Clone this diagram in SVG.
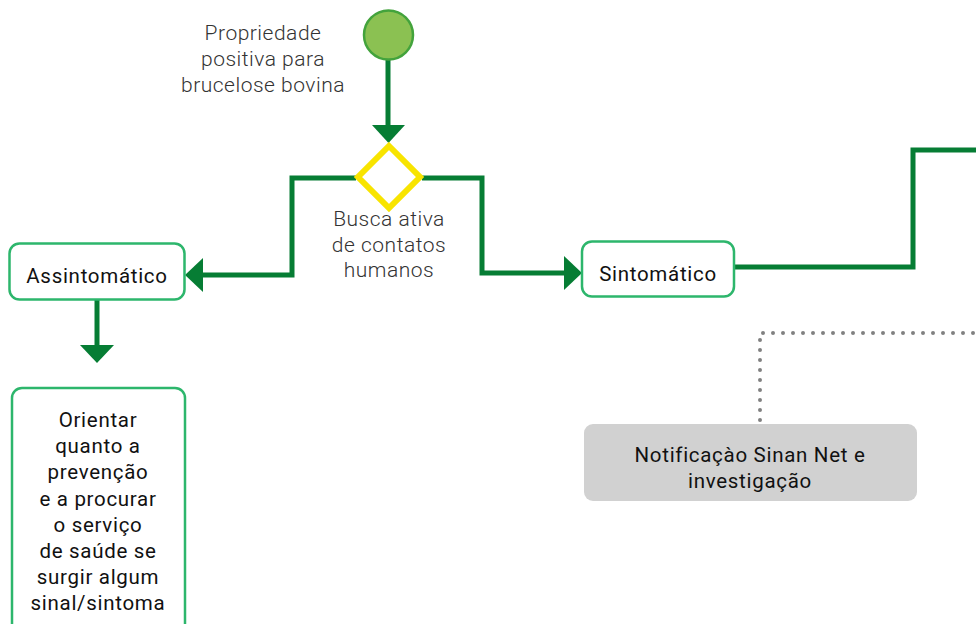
<svg xmlns="http://www.w3.org/2000/svg" width="976" height="624" viewBox="0 0 976 624">
<defs>
<style>
.t{font-family:Roboto,"Liberation Sans",sans-serif;font-size:20.5px;fill:#111;text-anchor:middle;letter-spacing:0.7px}
.lbl{font-family:Roboto,"Liberation Sans",sans-serif;font-size:21px;fill:#333;text-anchor:middle;font-weight:300;letter-spacing:0.5px}
.box{fill:#fff;stroke:#2db66c;stroke-width:2.5}
.gray{fill:#d1d1d1}
.c{fill:none;stroke:#067d34;stroke-width:5}
.ah{fill:#067d34}
.dot{fill:none;stroke:#808080;stroke-width:4;stroke-linecap:round;stroke-dasharray:0 10}
</style>
</defs>
<g id="connectors">
<path class="c" d="M388 59 V127"/>
<polygon class="ah" points="372,125 405,125 388.5,143"/>
<path class="c" d="M356 178 H292 V275 H200"/>
<polygon class="ah" points="203,258 203,292 185,275"/>
<path class="c" d="M422 178 H482 V273 H567"/>
<polygon class="ah" points="564,256 564,290 582,273"/>
<path class="c" d="M97 300 V347"/>
<polygon class="ah" points="80,345 114,345 97,363"/>
<path class="c" d="M735 267 H913 V150 H976"/>
<path class="dot" d="M760 420 V333 H976"/>
</g>
<g id="start">
<circle cx="388.5" cy="35" r="24.5" fill="#8bc152" stroke="#43a33c" stroke-width="2.5"/>
</g>
<g id="label-start">
<text class="lbl" x="263" y="40">Propriedade</text>
<text class="lbl" x="263" y="66">positiva para</text>
<text class="lbl" x="263" y="92">brucelose bovina</text>
</g>
<g id="decision">
<polygon points="389,146 420,177 389,208 358,177" fill="#fff" stroke="#f8e400" stroke-width="6"/>
<text class="lbl" x="389" y="226">Busca ativa</text>
<text class="lbl" x="389" y="252">de contatos</text>
<text class="lbl" x="389" y="277">humanos</text>
</g>
<g id="assintomatico">
<rect class="box" x="9.5" y="243.5" width="175" height="56" rx="10"/>
<text class="t" x="97" y="283">Assintomático</text>
</g>
<g id="orientar">
<rect class="box" x="12" y="388" width="173" height="250" rx="10"/>
<text class="t" x="98" y="427">Orientar</text>
<text class="t" x="98" y="453">quanto a</text>
<text class="t" x="98" y="479">prevenção</text>
<text class="t" x="98" y="506">e a procurar</text>
<text class="t" x="98" y="532">o serviço</text>
<text class="t" x="98" y="558">de saúde se</text>
<text class="t" x="98" y="584">surgir algum</text>
<text class="t" x="98" y="610">sinal/sintoma</text>
</g>
<g id="sintomatico">
<rect class="box" x="582" y="241.5" width="152" height="55" rx="10"/>
<text class="t" x="658" y="281">Sintomático</text>
</g>
<g id="notificacao">
<rect class="gray" x="584" y="424" width="333" height="77" rx="9"/>
<text class="t" x="750" y="462">Notificaçào Sinan Net e</text>
<text class="t" x="750" y="488">investigação</text>
</g>
</svg>
